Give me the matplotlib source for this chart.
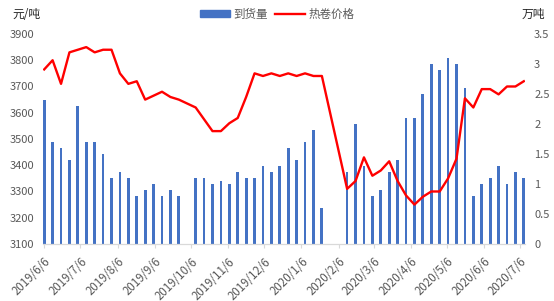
import numpy as np
import pandas as pd
import matplotlib
matplotlib.use('Agg')
import matplotlib.pyplot as plt
from matplotlib.patches import Patch
from matplotlib.lines import Line2D

plt.rcParams['font.family'] = ['Noto Sans CJK SC', 'DejaVu Sans']

# weekly data, 2019/6/6 .. 2020/7/9
dates = pd.date_range('2019-06-06', periods=58, freq='7D')

# 到货量 (万吨), nan = no data (holidays)
arrivals = [2.4, 1.7, 1.6, 1.4, 2.3, 1.7, 1.7, 1.5, 1.1, 1.2,
            1.1, 0.8, 0.9, 1.0, 0.8, 0.9, 0.8, np.nan, 1.1, 1.1,
            1.0, 1.05, 1.0, 1.2, 1.1, 1.1, 1.3, 1.2, 1.3, 1.6,
            1.4, 1.7, 1.9, 0.6, np.nan, np.nan, 1.2, 2.0, 1.3, 0.8,
            0.9, 1.2, 1.4, 2.1, 2.1, 2.5, 3.0, 2.9, 3.1, 3.0,
            2.6, 0.8, 1.0, 1.1, 1.3, 1.0, 1.2, 1.1]

# 热卷价格 (元/吨)
prices = [3765, 3800, 3710, 3830, 3840, 3850, 3830, 3840, 3840, 3750,
          3710, 3720, 3650, 3665, 3680, 3660, 3650, np.nan, 3620, 3575,
          3530, 3530, 3560, 3580, 3660, 3750, 3740, 3750, 3740, 3750,
          3740, 3750, 3740, 3740, np.nan, np.nan, 3310, 3340, 3430, 3360,
          3380, 3415, 3340, 3285, 3250, 3280, 3300, 3300, 3350, 3425,
          3655, 3620, 3690, 3690, 3670, 3700, 3700, 3720]

price_ticks = list(range(3100, 4000, 100))
amount_ticks = [0, 0.5, 1, 1.5, 2, 2.5, 3, 3.5]
month_ticks = pd.date_range('2019-06-06', '2020-07-06', freq=pd.DateOffset(months=1))

blue = '#4472C4'
red = '#FF0000'
grey = '#595959'

fig = plt.figure(figsize=(5.54, 3.01), dpi=100)
ax = fig.add_axes([0.0776, 0.1894, 0.8701, 0.6977])
ax2 = ax.twinx()

# bars on the right axis, behind the price line
ax2.bar(dates, arrivals, width=2.3, color=blue, label='到货量')
arr = np.array(prices, dtype=float)
ok = ~np.isnan(arr)
ax.plot(dates[ok], arr[ok], color=red, lw=1.7, label='热卷价格')

ax.set_zorder(ax2.get_zorder() + 1)
ax.patch.set_visible(False)

ax.set_xlim(pd.Timestamp('2019-06-05'), pd.Timestamp('2020-07-10'))
ax.set_ylim(3100, 3900)
ax2.set_ylim(0, 3.5)
ax.set_yticks(price_ticks)
ax2.set_yticks(amount_ticks)
ax2.set_yticklabels([f'{v:g}' for v in amount_ticks])

ax.set_xticks(month_ticks)
ax.set_xticklabels([f'{d.year}/{d.month}/{d.day}' for d in month_ticks],
                   rotation=45, ha='right', rotation_mode='anchor')

for a in (ax, ax2):
    for s in a.spines.values():
        s.set_visible(False)
ax.spines['bottom'].set_visible(True)
ax.spines['bottom'].set_color('#d9d9d9')
ax.spines['bottom'].set_linewidth(0.9)

ax.tick_params(axis='y', length=0, pad=6.5, labelsize=8, labelcolor=grey)
ax2.tick_params(axis='y', length=0, pad=6.5, labelsize=8, labelcolor=grey)
ax.tick_params(axis='x', length=3, width=0.8, color='#d9d9d9', pad=5,
               labelsize=8.3, labelcolor=grey)

fig.text(12 / 554, 1 - 14 / 301, '元/吨', fontsize=8.5, color='#262626',
         ha='left', va='center')
fig.text(545 / 554, 1 - 14 / 301, '万吨', fontsize=8.5, color='#262626',
         ha='right', va='center')

handles = [Patch(color=blue), Line2D([], [], color=red, lw=1.7)]
fig.legend(handles, ['到货量', '热卷价格'], loc='center', ncol=2,
           bbox_to_anchor=(277 / 554, 1 - 14 / 301), frameon=False,
           fontsize=8.3, labelcolor=grey, handlelength=2.6, handleheight=0.6,
           handletextpad=0.3, columnspacing=0.6)

fig.savefig('out.png', dpi=100)
